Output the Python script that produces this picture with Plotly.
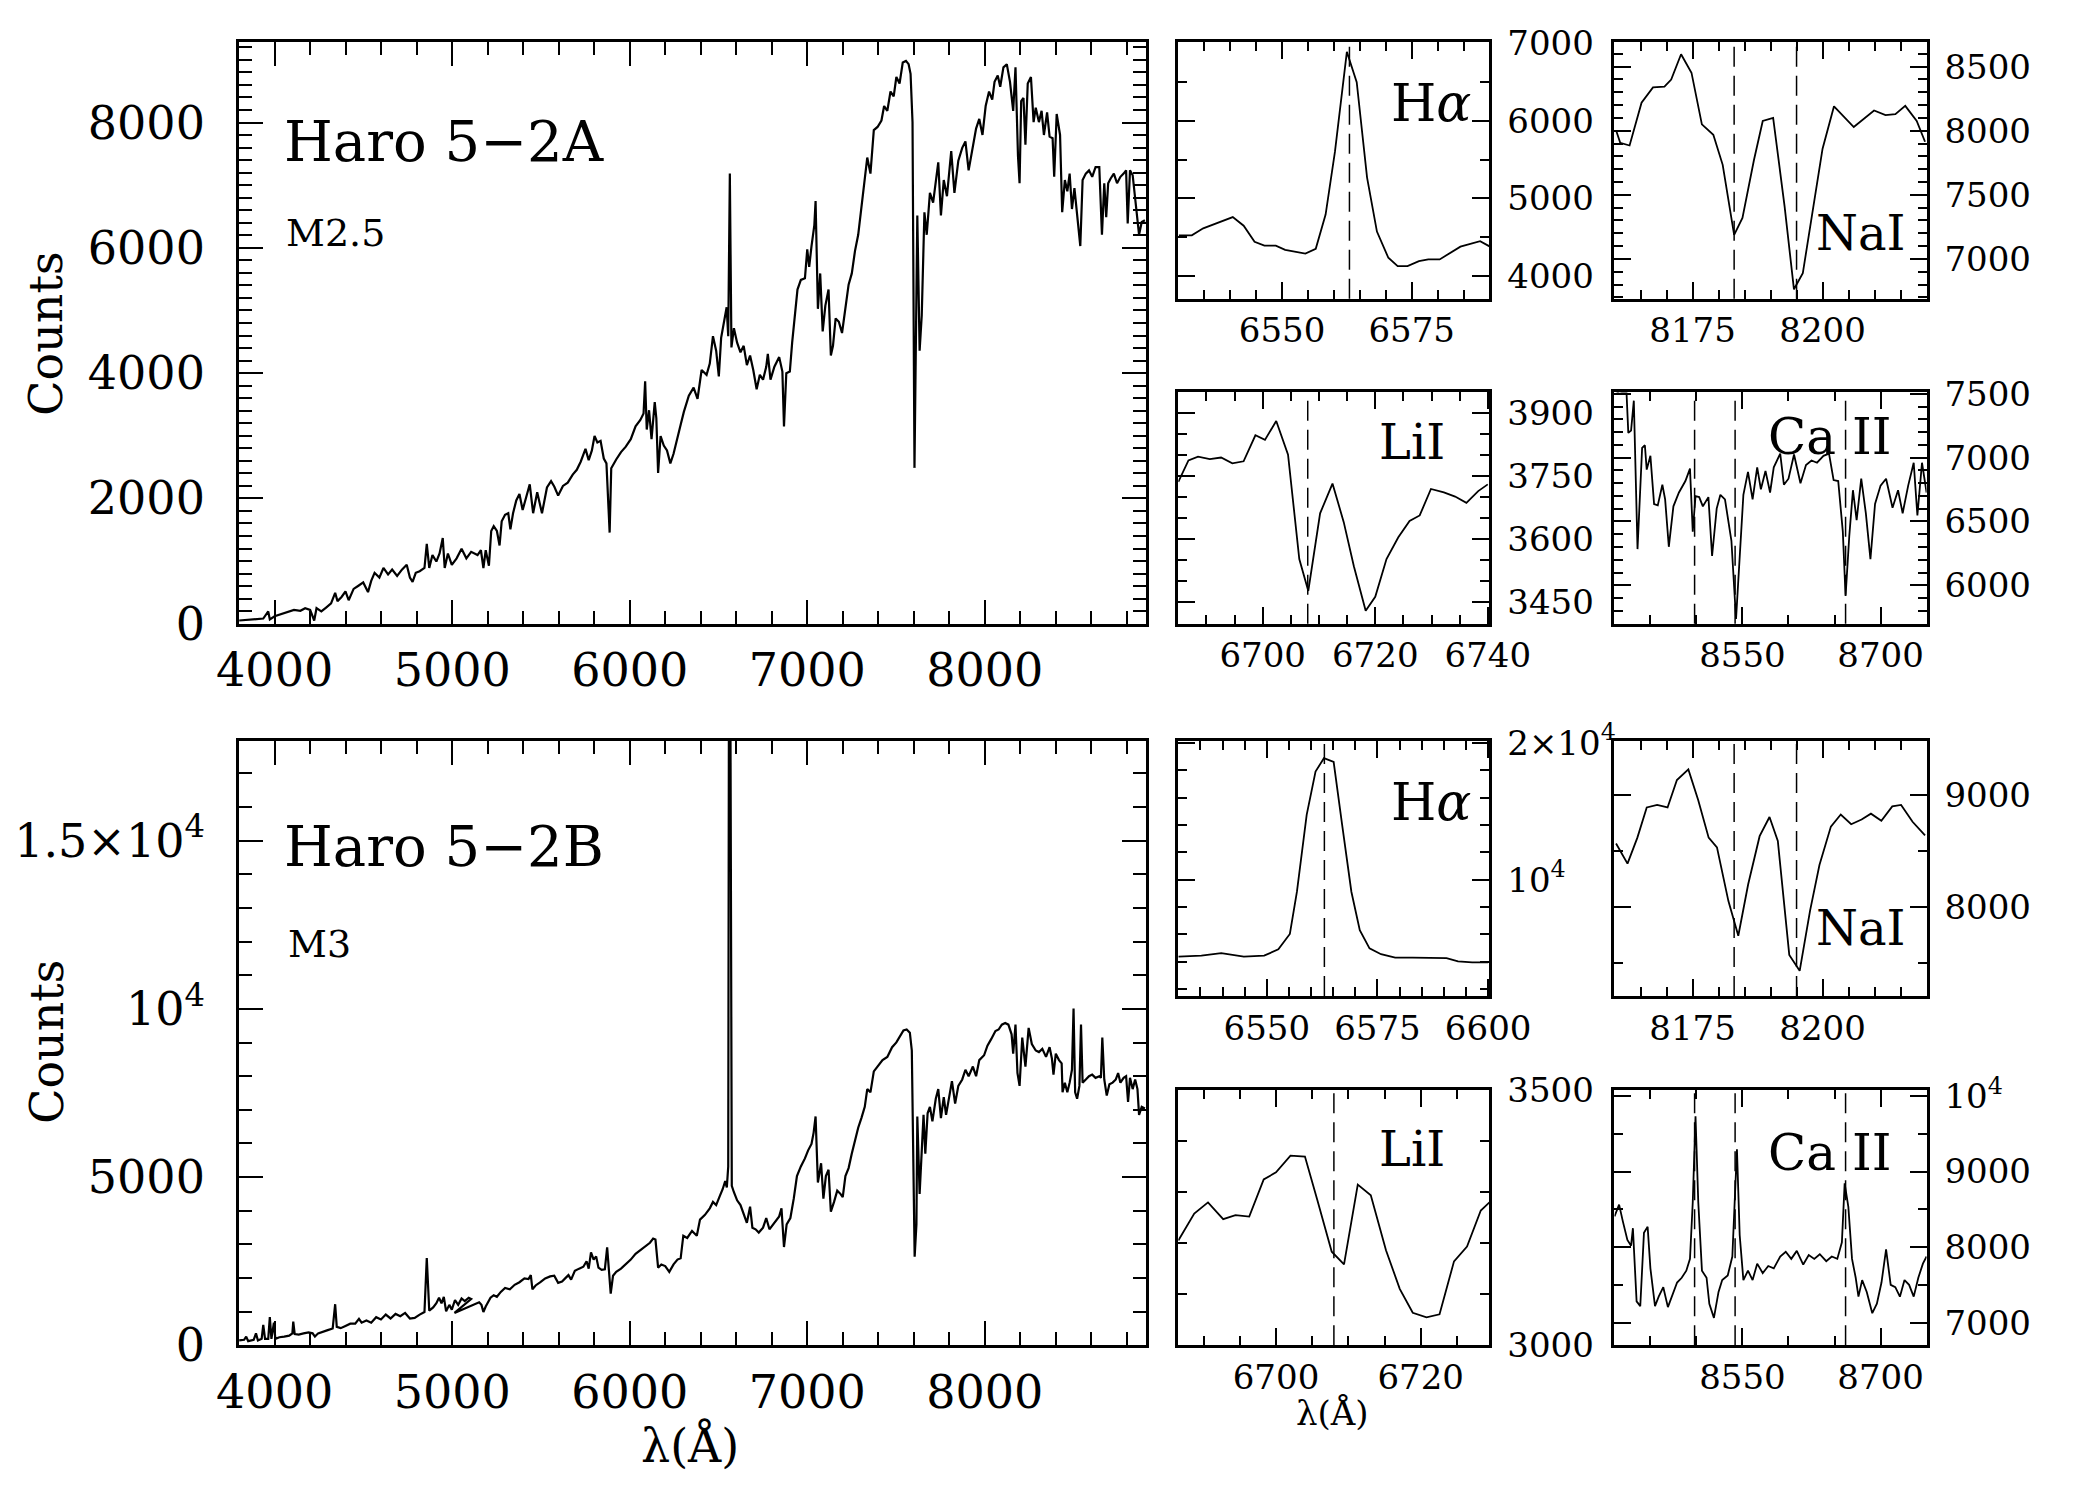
import plotly.graph_objects as go

W, H = 2082, 1500
FONT = "DejaVu Serif"

# ---- Haro 5-2A full spectrum, blue and red halves ----
A_BLUE_WAVE = [3800, 3873, 3936, 3964, 3973, 4000, 4036, 4073, 4109, 4145,
               4172, 4200, 4223, 4236, 4263, 4290, 4318, 4341, 4354, 4377,
               4399, 4417, 4445, 4472, 4499, 4526, 4544, 4563, 4590, 4613,
               4639, 4662, 4690, 4717, 4744, 4762, 4777, 4795, 4817, 4844,
               4857, 4871, 4889, 4911, 4929, 4947, 4958, 4976, 4998, 5025,
               5053, 5080, 5107, 5143, 5162, 5176, 5189, 5207, 5220, 5234,
               5252, 5267, 5279, 5298, 5316, 5328, 5343, 5361, 5379, 5397,
               5416, 5437, 5456, 5479, 5506, 5534, 5557, 5575, 5597, 5624,
               5651, 5679, 5702, 5724, 5751, 5769, 5787, 5802, 5818, 5836,
               5854, 5869, 5887, 5896, 5924, 5951, 5978, 6006, 6033, 6060,
               6078, 6087, 6096, 6109, 6123, 6141, 6150, 6160, 6174, 6192,
               6210, 6229, 6247, 6269]
A_BLUE_FLUX = [51, 67, 82, 195, 67, 118, 154, 185, 221, 206,
               247, 221, 51, 247, 195, 257, 324, 493, 360, 427,
               514, 375, 555, 606, 658, 504, 684, 812, 735, 889,
               786, 863, 761, 863, 940, 735, 668, 812, 838, 889,
               1274, 889, 1095, 992, 1120, 1367, 889, 1120, 940, 1043,
               1197, 1043, 1146, 1095, 1172, 889, 1172, 925, 1480, 1557,
               1480, 1249, 1634, 1737, 1763, 1506, 1763, 1968, 2071, 1814,
               1994, 2225, 1763, 2097, 1763, 2174, 2276, 2189, 2045, 2199,
               2251, 2379, 2456, 2585, 2790, 2610, 2765, 2996, 2893, 2919,
               2636, 2559, 1454, 2482, 2621, 2739, 2826, 2945, 3150, 3253,
               3356, 3869, 3099, 3407, 2945, 3536, 3279, 2405, 2996, 2842,
               2765, 2559, 2713, 2945]
A_RED_WAVE = [6287, 6305, 6333, 6360, 6382, 6405, 6433, 6451, 6469, 6487,
              6502, 6515, 6533, 6546, 6555, 6564, 6573, 6587, 6605, 6624,
              6642, 6660, 6678, 6696, 6715, 6733, 6751, 6769, 6778, 6793,
              6815, 6842, 6860, 6869, 6882, 6902, 6915, 6933, 6945, 6964,
              6987, 7000, 7011, 7024, 7040, 7047, 7060, 7073, 7087, 7102,
              7120, 7133, 7145, 7160, 7178, 7196, 7215, 7233, 7251, 7269,
              7287, 7305, 7324, 7338, 7356, 7375, 7396, 7418, 7433, 7451,
              7469, 7487, 7502, 7520, 7538, 7556, 7571, 7582, 7593, 7604,
              7620, 7633, 7645, 7660, 7673, 7691, 7709, 7727, 7738, 7753,
              7769, 7787, 7811, 7829, 7851, 7873, 7891, 7909, 7933, 7951,
              7969, 7987, 8005, 8024, 8042, 8055, 8073, 8087, 8105, 8124,
              8142, 8160, 8173, 8187, 8196, 8205, 8218, 8229, 8242, 8260,
              8275, 8287, 8305, 8320, 8333, 8351, 8365, 8382, 8391, 8405,
              8424, 8436, 8451, 8465, 8478, 8491, 8505, 8520, 8538, 8551,
              8569, 8587, 8605, 8624, 8645, 8660, 8673, 8684, 8695, 8709,
              8727, 8745, 8764, 8782, 8796, 8805, 8818, 8833, 8847, 8860,
              8869, 8884, 8902]
A_RED_FLUX = [3176, 3381, 3638, 3767, 3587, 4049, 3972, 4152, 4589, 4358,
              3947, 4563, 4846, 5051, 4589, 7184, 4409, 4717, 4486, 4332,
              4435, 4126, 4281, 4049, 3741, 3972, 3895, 4101, 4306, 3895,
              4101, 4255, 4024, 3150, 3998, 4024, 4486, 4949, 5334, 5488,
              5514, 5976, 5694, 6028, 6362, 6747, 5026, 5591, 4666, 5077,
              5334, 4281, 4435, 4872, 4820, 4640, 5077, 5411, 5591, 5951,
              6208, 6645, 7004, 7441, 7184, 7878, 7929, 8032, 8263, 8186,
              8494, 8417, 8726, 8623, 8957, 8983, 8931, 8777, 8006, 2487,
              6516, 4358, 4923, 6567, 6208, 6876, 6722, 7081, 7364, 6516,
              7081, 6824, 7544, 6876, 7390, 7595, 7698, 7236, 7647, 7903,
              8057, 7801, 8263, 8494, 8366, 8649, 8751, 8571, 8880, 8931,
              8649, 8186, 8880, 7467, 7030, 8340, 8392, 7647, 8623, 8726,
              8006, 8237, 8006, 8186, 7801, 8160, 7775, 7749, 7133, 8135,
              7801, 6567, 7081, 6901, 7184, 6619, 6953, 6516, 6028, 7081,
              7184, 7236, 7133, 7287, 7287, 6208, 7030, 6490, 7030, 7107,
              7184, 7030, 7133, 7184, 7236, 6388, 7236, 7158, 6824, 6516,
              6208, 6413, 6439]

# ---- Haro 5-2B full spectrum ----
B_BLUE_WAVE = [3800, 3828, 3840, 3851, 3882, 3895, 3906, 3927, 3936, 3946,
               3964, 3973, 3982, 3996, 4004, 4027, 4054, 4082, 4100, 4105,
               4113, 4136, 4163, 4191, 4214, 4227, 4245, 4272, 4299, 4327,
               4341, 4350, 4372, 4399, 4426, 4454, 4475, 4490, 4517, 4544,
               4572, 4599, 4626, 4653, 4681, 4708, 4735, 4762, 4789, 4817,
               4844, 4857, 4871, 4893, 4911, 4926, 4940, 4953, 4966, 4984,
               4998, 5016, 5034, 5053, 5071, 5093, 5107, 5013, 5044, 5071,
               5103, 5134, 5152, 5165, 5176, 5189, 5201, 5216, 5234, 5252,
               5274, 5298, 5325, 5352, 5379, 5407, 5430, 5443, 5452, 5470,
               5497, 5524, 5552, 5575, 5597, 5619, 5642, 5655, 5670, 5691,
               5715, 5739, 5757, 5769, 5782, 5797, 5811, 5824, 5842, 5860,
               5873, 5884, 5893, 5906, 5924, 5951, 5978, 6006, 6033, 6060,
               6087, 6114, 6132, 6145, 6160, 6178, 6200, 6223, 6247, 6269]
B_BLUE_FLUX = [144, 163, 260, 125, 163, 356, 144, 192, 606, 192,
               192, 837, 192, 673, 192, 240, 260, 288, 356, 702,
               337, 317, 356, 385, 356, 260, 356, 413, 452, 500,
               1221, 548, 510, 577, 644, 644, 788, 673, 740, 673,
               837, 769, 913, 798, 933, 865, 962, 798, 817, 913,
               990, 2596, 1029, 1125, 1250, 1413, 1250, 1442, 1010, 1202,
               1058, 1346, 1202, 1394, 1317, 1413, 1375, 962, 1029, 1106,
               1154, 1221, 1279, 1202, 990, 1154, 1279, 1413, 1490, 1442,
               1587, 1702, 1663, 1798, 1875, 1990, 1971, 2087, 1663, 1779,
               1875, 1990, 2048, 2067, 1856, 1894, 2019, 2087, 1952, 2212,
               2279, 2337, 2500, 2279, 2760, 2548, 2644, 2308, 2240, 2260,
               2913, 2019, 1538, 2067, 2183, 2279, 2404, 2548, 2721, 2837,
               2952, 3048, 3173, 3144, 2308, 2404, 2356, 2183, 2404, 2548]
B_RED_WAVE = [6287, 6302, 6324, 6351, 6378, 6396, 6424, 6451, 6469, 6487,
              6505, 6524, 6538, 6547, 6555, 6559, 6567, 6575, 6587, 6605,
              6624, 6642, 6660, 6678, 6691, 6709, 6727, 6751, 6769, 6787,
              6815, 6842, 6855, 6869, 6884, 6905, 6924, 6942, 6964, 6987,
              7005, 7024, 7036, 7047, 7060, 7078, 7091, 7105, 7120, 7133,
              7151, 7169, 7187, 7200, 7215, 7233, 7251, 7269, 7287, 7305,
              7324, 7338, 7356, 7375, 7396, 7424, 7451, 7478, 7502, 7524,
              7542, 7560, 7578, 7589, 7596, 7605, 7615, 7620, 7633, 7647,
              7655, 7665, 7678, 7691, 7705, 7724, 7738, 7753, 7769, 7782,
              7796, 7815, 7833, 7851, 7873, 7891, 7909, 7933, 7951, 7969,
              7996, 8015, 8036, 8060, 8078, 8096, 8115, 8133, 8151, 8160,
              8173, 8184, 8196, 8211, 8229, 8247, 8265, 8287, 8305, 8324,
              8345, 8365, 8378, 8387, 8400, 8418, 8433, 8438, 8451, 8465,
              8478, 8491, 8500, 8509, 8520, 8533, 8542, 8551, 8569, 8587,
              8605, 8624, 8645, 8654, 8662, 8673, 8687, 8702, 8720, 8738,
              8751, 8764, 8782, 8796, 8807, 8818, 8833, 8847, 8860, 8869,
              8884, 8902]
B_RED_FLUX = [2586, 3257, 3190, 3400, 3257, 3736, 3879, 4071, 4262, 4167,
              4406, 4646, 4885, 4693, 5316, 19500, 19500, 4741, 4550, 4310,
              4167, 3879, 3640, 4119, 3496, 3448, 3352, 3496, 3783, 3448,
              3640, 3831, 4071, 2921, 3592, 3783, 4358, 5029, 5316, 5556,
              5795, 5987, 6322, 6801, 4837, 5412, 4358, 5029, 5220, 3975,
              4262, 4598, 4502, 4406, 5029, 5268, 5699, 6082, 6466, 6753,
              7088, 7615, 7519, 8142, 8285, 8477, 8573, 8860, 9004, 9195,
              9358, 9387, 9291, 8764, 6274, 2634, 3592, 6801, 4502, 6274,
              6849, 5699, 6897, 7088, 6657, 7328, 7615, 6753, 7375, 6849,
              7232, 7854, 7184, 7711, 7902, 8190, 7998, 8285, 7998, 8477,
              8621, 8908, 9100, 9339, 9387, 9531, 9579, 9531, 9243, 8669,
              9531, 8094, 7711, 9148, 8285, 9435, 8956, 8764, 8716, 8812,
              8573, 8860, 8525, 8046, 8669, 8477, 8381, 7519, 7807, 7519,
              7807, 8190, 10010, 7519, 7328, 7711, 9531, 7807, 7902, 7998,
              8046, 7950, 7998, 7950, 9148, 7902, 7423, 7759, 7807, 7902,
              8094, 7807, 7950, 7998, 7232, 7950, 7615, 7902, 7615, 6849,
              7088, 7040]

# ---- Haro 5-2A zoomed regions ----
A_HA_WAVE = [6530.1, 6532.6, 6534.8, 6537.0, 6540.5, 6542.6, 6544.7, 6546.6, 6548.8, 6550.6,
             6554.5, 6556.5, 6558.4, 6560.2, 6562.5, 6564.4, 6566.4, 6568.3, 6570.5, 6572.3,
             6574.2, 6576.4, 6578.2, 6580.4, 6582.6, 6584.4, 6588.2, 6590.1]
A_HA_FLUX = [4525, 4525, 4616, 4669, 4760, 4649, 4442, 4393, 4393, 4339,
             4289, 4351, 4793, 5599, 6888, 6496, 5269, 4574, 4236, 4128,
             4128, 4194, 4215, 4215, 4306, 4380, 4450, 4380]

A_NA_WAVE = [8160.3, 8161.1, 8162.9, 8165.2, 8167.4, 8169.6, 8170.9, 8172.8, 8174.8, 8176.8,
             8179.0, 8180.8, 8183.0, 8184.6, 8186.8, 8188.5, 8190.5, 8192.7, 8194.5, 8196.2,
             8200.0, 8202.2, 8206.0, 8209.9, 8212.1, 8214.0, 8215.9, 8218.1, 8219.7]
A_NA_FLUX = [8004, 7906, 7885, 8219, 8338, 8345, 8399, 8597, 8453, 8050,
             7968, 7734, 7187, 7320, 7770, 8076, 8101, 7410, 6763, 6888,
             7860, 8191, 8029, 8158, 8122, 8129, 8194, 8076, 7914]

A_LI_WAVE = [6685.0, 6686.8, 6688.5, 6690.6, 6692.6, 6694.6, 6696.6, 6698.7, 6700.4, 6702.4,
             6704.5, 6706.5, 6708.1, 6710.2, 6712.4, 6714.4, 6716.2, 6718.3, 6720.0, 6722.0,
             6724.1, 6726.1, 6727.9, 6729.9, 6732.2, 6734.2, 6736.2, 6738.3, 6740.0]
A_LI_FLUX = [3736, 3787, 3796, 3790, 3794, 3780, 3785, 3847, 3836, 3881,
             3801, 3552, 3476, 3661, 3732, 3640, 3535, 3429, 3462, 3552,
             3604, 3643, 3656, 3719, 3711, 3701, 3686, 3714, 3730]

A_CA_WAVE = [8411, 8416, 8424, 8426, 8429, 8432, 8436, 8441, 8444, 8446, 8450, 8454, 8458, 8463,
             8466, 8470, 8475, 8481, 8488, 8493, 8496, 8499, 8503, 8507, 8513, 8517, 8522, 8526,
             8531, 8538, 8543, 8547, 8551, 8556, 8561, 8566, 8570, 8575, 8580, 8584, 8591, 8595,
             8600, 8606, 8613, 8619, 8625, 8631, 8638, 8644, 8649, 8654, 8659, 8662, 8666, 8670,
             8674, 8679, 8684, 8689, 8694, 8700, 8706, 8713, 8719, 8724, 8730, 8736, 8740, 8745, 8750]
A_CA_FLUX = [7536, 7500, 7518, 7194, 7212, 7446, 6284, 7076, 7097, 6906, 7014, 6637, 6626, 6788,
             6673, 6302, 6619, 6727, 6817, 6914, 6421, 6698, 6691, 6619, 6691, 6230, 6601, 6709,
             6673, 6349, 5737, 6241, 6709, 6888, 6673, 6924, 6752, 6896, 6727, 6924, 7032, 6788,
             6835, 7025, 6799, 6942, 6978, 6960, 7014, 7032, 6824, 6817, 6421, 5917, 6385, 6745,
             6511, 6835, 6565, 6205, 6637, 6781, 6835, 6608, 6745, 6565, 6781, 6960, 6547, 6960, 6727]

# ---- Haro 5-2B zoomed regions ----
B_HA_WAVE = [6530.0, 6535.2, 6539.7, 6544.8, 6549.4, 6552.6, 6555.2, 6556.8, 6559.0, 6561.0,
             6562.9, 6565.1, 6567.0, 6569.1, 6571.0, 6573.2, 6575.8, 6579.0, 6582.9, 6586.7,
             6590.6, 6593.2, 6596.4, 6600.0]
B_HA_FLUX = [4386, 4456, 4632, 4386, 4456, 4912, 6035, 9123, 14737, 17895,
             18877, 18596, 14035, 9123, 6316, 4982, 4561, 4316, 4316, 4281,
             4281, 4035, 3965, 3965]

B_NA_WAVE = [8160.3, 8162.5, 8164.4, 8166.2, 8168.2, 8170.2, 8172.0, 8174.2, 8176.1, 8178.1,
             8179.7, 8181.9, 8183.8, 8185.7, 8187.9, 8189.8, 8191.4, 8193.6, 8195.6, 8197.6,
             8199.4, 8201.6, 8203.5, 8205.5, 8207.5, 8209.3, 8211.3, 8213.4, 8215.1, 8217.3, 8219.7]
B_NA_FLUX = [8569, 8388, 8621, 8892, 8914, 8892, 9138, 9233, 8957, 8621,
             8534, 8052, 7741, 8203, 8634, 8806, 8591, 7569, 7427, 7966,
             8375, 8720, 8828, 8741, 8784, 8836, 8772, 8901, 8914, 8763, 8642]

B_LI_WAVE = [6686.5, 6688.7, 6690.6, 6692.7, 6694.4, 6696.3, 6698.3, 6700.0, 6702.0, 6704.0,
             6705.7, 6707.7, 6709.4, 6711.3, 6713.1, 6715.2, 6717.1, 6718.9, 6720.8, 6722.6,
             6724.6, 6726.4, 6728.3, 6729.5]
B_LI_FLUX = [3205, 3258, 3280, 3247, 3255, 3252, 3325, 3339, 3372, 3370,
             3285, 3183, 3158, 3315, 3294, 3186, 3110, 3063, 3054, 3060,
             3164, 3193, 3264, 3280]

B_CA_WAVE = [8411, 8416, 8420, 8425, 8429, 8431, 8435, 8439, 8443, 8447, 8450, 8455, 8459, 8464,
             8469, 8474, 8479, 8484, 8489, 8493, 8496, 8499, 8502, 8506, 8511, 8514, 8519, 8524,
             8528, 8534, 8539, 8544, 8547, 8551, 8556, 8561, 8566, 8572, 8578, 8584, 8591, 8597,
             8603, 8609, 8616, 8622, 8628, 8634, 8641, 8647, 8653, 8658, 8661, 8665, 8669, 8673,
             8676, 8680, 8685, 8691, 8696, 8701, 8706, 8711, 8716, 8721, 8726, 8731, 8736, 8741,
             8746, 8750]
B_CA_FLUX = [8406, 8562, 8344, 8094, 8019, 8250, 7281, 7219, 8188, 8269, 7719, 7219, 7344, 7469,
             7206, 7375, 7531, 7594, 7688, 7844, 8594, 9731, 8594, 7688, 7594, 7250, 7063, 7406,
             7563, 7625, 7875, 9294, 8156, 7563, 7688, 7563, 7781, 7656, 7750, 7719, 7875, 7938,
             7844, 7950, 7769, 7894, 7844, 7906, 7813, 7875, 7844, 8063, 8844, 8531, 7844, 7594,
             7344, 7563, 7406, 7125, 7250, 7531, 7969, 7500, 7469, 7344, 7563, 7500, 7344, 7594,
             7781, 7875]

# rest wavelengths marked with dashed lines
HA_LINE = [6563]
NA_LINES = [8183, 8195]
LI_LINE = [6708]
CA_LINES = [8498, 8542, 8662]

BIG_X_TICKS = [4000, 5000, 6000, 7000, 8000]
A_Y_TICKS = [0, 2000, 4000, 6000, 8000]
B_Y_TICKS = [0, 5000, 10000, 15000]
B_Y_TEXT = ["0", "5000", "10<sup>4</sup>", "1.5×10<sup>4</sup>"]
B_HA_Y_TICKS = [10000, 20000]
B_HA_Y_TEXT = ["10<sup>4</sup>", "2×10<sup>4</sup>"]
B_CA_Y_TICKS = [7000, 8000, 9000, 10000]
B_CA_Y_TEXT = ["7000", "8000", "9000", "10<sup>4</sup>"]


def dom_x(a, b):
    return [a / W, b / W]


def dom_y(top, bottom):
    return [1 - bottom / H, 1 - top / H]


fig = go.Figure()


def panel(n, wave, flux, xdom, ydom, xr, xticks, xminor, yr, yticks, yminor,
          ytext=None, big=False, yside="left", lines=()):
    xa = "x" if n == 1 else "x%d" % n
    ya = "y" if n == 1 else "y%d" % n
    fig.add_trace(go.Scatter(x=wave, y=flux, mode="lines", xaxis=xa, yaxis=ya,
                             line=dict(color="black", width=2.2 if big else 1.8),
                             showlegend=False, hoverinfo="skip"))
    maj, mnr = (24, 13) if big else (17, 9)
    fs = 46 if big else 34
    common = dict(showline=True, linecolor="black", linewidth=3, mirror="allticks",
                  ticks="inside", ticklen=maj, tickwidth=2, tickcolor="black",
                  showgrid=False, zeroline=False,
                  tickfont=dict(family=FONT, size=fs, color="black"))
    xaxis = dict(common, domain=xdom, range=xr, anchor=ya, tickmode="array",
                 tickvals=xticks, ticktext=[str(v) for v in xticks],
                 ticklabelstandoff=4 if big else 0,
                 minor=dict(ticks="inside", ticklen=mnr, tickwidth=2, tickcolor="black",
                            tickmode="linear", tick0=xticks[0], dtick=xminor))
    yaxis = dict(common, domain=ydom, range=yr, anchor=xa, side=yside, tickmode="array",
                 tickvals=yticks,
                 ticktext=ytext if ytext else [str(v) for v in yticks],
                 ticklabelstandoff=22 if big else 8,
                 minor=dict(ticks="inside", ticklen=mnr, tickwidth=2, tickcolor="black",
                            tickmode="linear", tick0=yticks[0], dtick=yminor))
    fig.layout["xaxis" if n == 1 else "xaxis%d" % n] = xaxis
    fig.layout["yaxis" if n == 1 else "yaxis%d" % n] = yaxis
    for lam in lines:
        fig.add_shape(type="line", xref=xa, yref=ya + " domain", x0=lam, x1=lam, y0=0, y1=1,
                      line=dict(color="black", width=1.5, dash="20px,9px"))


COL1 = dom_x(1193, 1514)
COL2 = dom_x(1643, 1965)

# Haro 5-2A
panel(1, A_BLUE_WAVE + A_RED_WAVE, A_BLUE_FLUX + A_RED_FLUX, dom_x(224, 1160), dom_y(21, 622),
      [3800, 8910], BIG_X_TICKS, 200, [0, 9280], A_Y_TICKS, 200, big=True)
panel(2, A_HA_WAVE, A_HA_FLUX, COL1, dom_y(21, 286), [6530, 6590], [6550, 6575], 5,
      [3710, 7010], [4000, 5000, 6000, 7000], 500, yside="right", lines=HA_LINE)
panel(3, A_NA_WAVE, A_NA_FLUX, COL2, dom_y(21, 286), [8160, 8220], [8175, 8200], 5,
      [6690, 8690], [7000, 7500, 8000, 8500], 100, yside="right", lines=NA_LINES)
panel(4, A_LI_WAVE, A_LI_FLUX, COL1, dom_y(383, 622), [6685, 6740.3], [6700, 6720, 6740], 5,
      [3398, 3949], [3450, 3600, 3750, 3900], 50, yside="right", lines=LI_LINE)
panel(5, A_CA_WAVE, A_CA_FLUX, COL2, dom_y(383, 622), [8411, 8750], [8550, 8700], 50,
      [5700, 7510], [6000, 6500, 7000, 7500], 100, yside="right", lines=CA_LINES)

# Haro 5-2B
panel(6, B_BLUE_WAVE + B_RED_WAVE, B_BLUE_FLUX + B_RED_FLUX, dom_x(224, 1160), dom_y(743, 1368),
      [3800, 8910], BIG_X_TICKS, 200, [0, 17970], B_Y_TICKS, 1000, ytext=B_Y_TEXT, big=True)
panel(7, B_HA_WAVE, B_HA_FLUX, COL1, dom_y(743, 1007), [6530, 6600.3], [6550, 6575, 6600], 5,
      [1500, 20150], B_HA_Y_TICKS, 2000, ytext=B_HA_Y_TEXT, yside="right", lines=HA_LINE)
panel(8, B_NA_WAVE, B_NA_FLUX, COL2, dom_y(743, 1007), [8160, 8220], [8175, 8200], 5,
      [7200, 9490], [8000, 9000], 500, yside="right", lines=NA_LINES)
panel(9, B_LI_WAVE, B_LI_FLUX, COL1, dom_y(1104, 1368), [6686.5, 6729.5], [6700, 6720], 5,
      [2999, 3501], [3000, 3500], 100, yside="right", lines=LI_LINE)
panel(10, B_CA_WAVE, B_CA_FLUX, COL2, dom_y(1104, 1368), [8411, 8750], [8550, 8700], 50,
      [6700, 10080], B_CA_Y_TICKS, 500, ytext=B_CA_Y_TEXT, yside="right", lines=CA_LINES)


def label(text, x, y, size, xanchor="left", angle=0):
    fig.add_annotation(text=text, x=x / W, y=1 - y / H, xref="paper", yref="paper",
                       showarrow=False, xanchor=xanchor, yanchor="middle", textangle=angle,
                       font=dict(family=FONT, size=size, color="black"))


label("Haro 5−2A", 268, 124, 56)
label("M2.5", 270, 218, 38)
label("Haro 5−2B", 268, 852, 56)
label("M3", 272, 953, 38)
label("Counts", 25, 322, 46, xanchor="center", angle=-90)
label("Counts", 25, 1054, 46, xanchor="center", angle=-90)
label("λ(Å)", 689, 1472, 46, xanchor="center")
label("λ(Å)", 1352, 1438, 34, xanchor="center")

label("H<i>α</i>", 1497, 84, 52, xanchor="right")
label("NaI", 1946, 218, 48, xanchor="right")
label("LiI", 1470, 434, 48, xanchor="right")
label("Ca II", 1930, 429, 50, xanchor="right")
label("H<i>α</i>", 1497, 806, 52, xanchor="right")
label("NaI", 1946, 937, 48, xanchor="right")
label("LiI", 1470, 1165, 48, xanchor="right")
label("Ca II", 1930, 1169, 50, xanchor="right")

fig.update_layout(width=W, height=H, margin=dict(l=0, r=0, t=0, b=0),
                  paper_bgcolor="white", plot_bgcolor="white", showlegend=False,
                  font=dict(family=FONT, color="black"))

# drop the default page margin so the figure sits at the window origin
fig.write_html("out.html", config={"displayModeBar": False},
               post_script="document.body.style.margin='0';"
                           "document.body.style.overflow='hidden';")
